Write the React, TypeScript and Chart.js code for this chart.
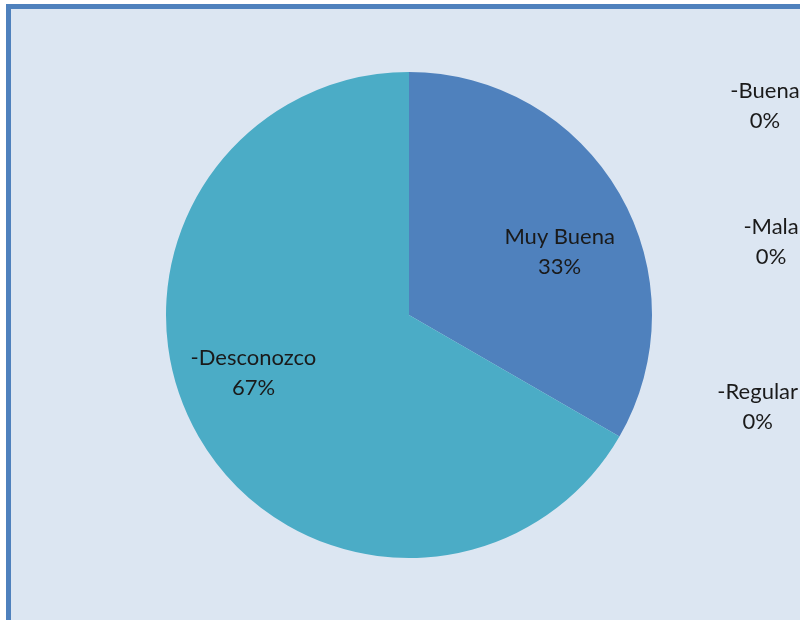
import React, { useEffect, useRef } from "react";
import { Chart, registerables } from "chart.js";

Chart.register(...registerables);

const categories = ["Muy Buena", "-Buena", "-Mala", "-Regular", "-Desconozco"];
const values = [1, 0, 0, 0, 2];
const colors = ["#4f81bd", "#c0504d", "#9bbb59", "#8064a2", "#4bacc6"];
// label anchor offsets as fractions of the pie radius (from pie centre)
const labelOffsets: [number, number][] = [
  [0.62, -0.26],
  [1.465, -0.86],
  [1.49, -0.3],
  [1.435, 0.38],
  [-0.64, 0.24],
];

const FONT = "22px Lato, 'Open Sans', sans-serif";

const labelPlugin = {
  id: "pieLabels",
  afterDatasetsDraw(chart: any) {
    const meta = chart.getDatasetMeta(0);
    const arc = meta.data[0];
    if (!arc) return;
    const cx = arc.x;
    const cy = arc.y;
    const r = arc.outerRadius;
    const total = values.reduce((a, b) => a + b, 0);
    const ctx = chart.ctx;
    ctx.save();
    ctx.font = FONT;
    ctx.fillStyle = "#1a1a1a";
    ctx.textAlign = "center";
    ctx.textBaseline = "middle";
    categories.forEach((c, i) => {
      const pct = Math.round((values[i] / total) * 100) + "%";
      const [fx, fy] = labelOffsets[i];
      const x = cx + fx * r;
      const y = cy + fy * r;
      ctx.fillText(c, x, y - 15);
      ctx.fillText(pct, x, y + 15);
    });
    ctx.restore();
  },
};

export default function App() {
  const ref = useRef<HTMLCanvasElement>(null);
  useEffect(() => {
    document.body.style.margin = "0";
    const chart = new Chart(ref.current!, {
      type: "pie",
      data: {
        labels: categories,
        datasets: [
          {
            data: values,
            backgroundColor: colors,
            borderWidth: 0,
          },
        ],
      },
      options: {
        animation: false,
        responsive: true,
        maintainAspectRatio: false,
        layout: { padding: { left: 166, right: 148, top: 72, bottom: 62 } },
        plugins: {
          legend: { display: false },
          tooltip: { enabled: false },
        },
      },
      plugins: [labelPlugin],
    });
    return () => chart.destroy();
  }, []);
  return (
    <div
      style={{
        position: "fixed",
        left: 0,
        top: 0,
        width: 800,
        height: 620,
        overflow: "hidden",
        background: "#ffffff",
      }}
    >
      <div
        style={{
          position: "absolute",
          left: 6,
          top: 4,
          width: 900,
          height: 700,
          background: "#dce6f2",
          borderLeft: "5px solid #4f81bd",
          borderTop: "5px solid #4f81bd",
        }}
      />
      <div style={{ position: "absolute", left: 0, top: 0, width: 800, height: 620 }}>
        <canvas ref={ref} />
      </div>
    </div>
  );
}
